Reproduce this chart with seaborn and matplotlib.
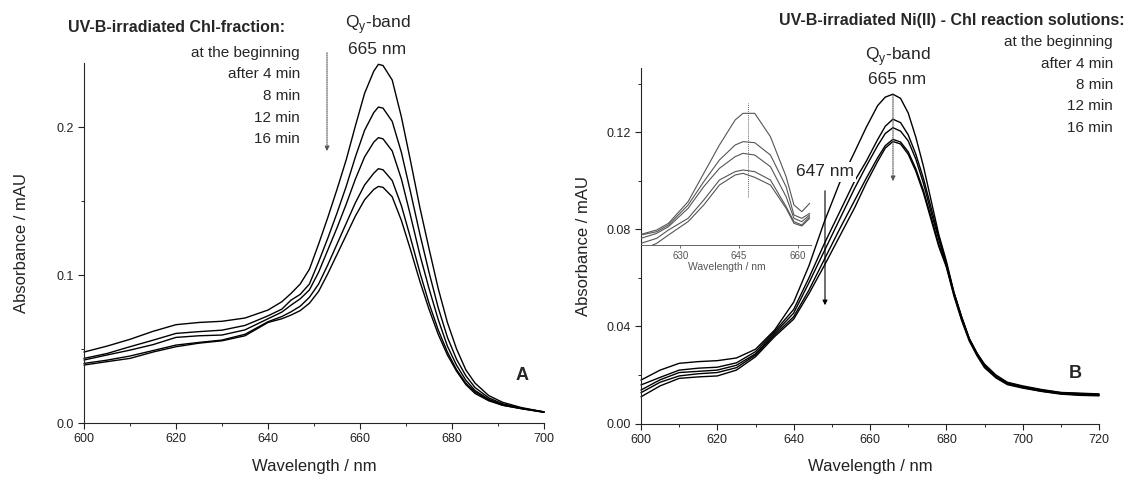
import numpy as np
import pandas as pd
import seaborn as sns
import matplotlib
matplotlib.use('Agg')
import matplotlib.pyplot as plt
from matplotlib.ticker import MultipleLocator, FormatStrFormatter

# irradiation times (same for both panels)
times = ['at the beginning', 'after 4 min', '8 min', '12 min', '16 min']

# panel A: UV-B-irradiated Chl-fraction
wl_a = [600, 605, 610, 615, 620, 625, 630, 635, 640, 643, 645, 647, 649, 651, 653, 655,
        657, 659, 661, 663, 664, 665, 667, 669, 671, 673, 675, 677, 679, 681, 683, 685,
        688, 691, 695, 700]
a_0 = [0.048, 0.052, 0.0566, 0.062, 0.0665, 0.068, 0.0688, 0.071, 0.0764, 0.082, 0.0876, 0.094,
       0.104, 0.121, 0.139, 0.158, 0.178, 0.201, 0.223, 0.238, 0.2426, 0.2418, 0.232, 0.207,
       0.177, 0.146, 0.118, 0.091, 0.068, 0.050, 0.036, 0.027, 0.0185, 0.014, 0.0105, 0.0075]
a_4 = [0.0437, 0.047, 0.0516, 0.056, 0.0606, 0.0618, 0.0628, 0.066, 0.0725, 0.077, 0.0831, 0.087,
       0.094, 0.109, 0.125, 0.142, 0.160, 0.180, 0.198, 0.210, 0.2137, 0.2130, 0.204, 0.183,
       0.156, 0.128, 0.102, 0.078, 0.058, 0.043, 0.032, 0.024, 0.017, 0.013, 0.010, 0.0075]
a_8 = [0.0426, 0.046, 0.0493, 0.053, 0.0579, 0.059, 0.0595, 0.063, 0.0705, 0.075, 0.0797, 0.084,
       0.090, 0.102, 0.117, 0.132, 0.148, 0.165, 0.180, 0.190, 0.193, 0.1922, 0.184, 0.165,
       0.140, 0.114, 0.091, 0.070, 0.052, 0.039, 0.029, 0.022, 0.016, 0.0125, 0.010, 0.0075]
a_12 = [0.0403, 0.0425, 0.0453, 0.049, 0.0527, 0.0545, 0.0561, 0.060, 0.0685, 0.072, 0.0752, 0.079,
        0.085, 0.094, 0.107, 0.121, 0.135, 0.149, 0.161, 0.169, 0.172, 0.1713, 0.164, 0.147,
        0.125, 0.102, 0.081, 0.063, 0.048, 0.036, 0.027, 0.021, 0.0155, 0.012, 0.0098, 0.0073]
a_16 = [0.0392, 0.0415, 0.0437, 0.048, 0.0516, 0.054, 0.0556, 0.059, 0.068, 0.0705, 0.073, 0.076,
        0.081, 0.089, 0.101, 0.114, 0.127, 0.140, 0.151, 0.158, 0.160, 0.1594, 0.153, 0.137,
        0.117, 0.096, 0.077, 0.060, 0.046, 0.035, 0.026, 0.020, 0.015, 0.012, 0.0097, 0.0072]

# panel B: UV-B-irradiated Ni(II) - Chl reaction solutions
wl_b = [600, 605, 610, 615, 620, 625, 630, 635, 640, 644, 648, 652, 656, 659, 662, 664, 666, 668,
        670, 672, 674, 676, 678, 680, 682, 684, 686, 688, 690, 693, 696, 700, 705, 710, 715, 720]
b_0 = [0.0179, 0.022, 0.0248, 0.0255, 0.0259, 0.027, 0.0306, 0.0385, 0.050, 0.065, 0.083, 0.099,
       0.112, 0.122, 0.131, 0.1345, 0.1357, 0.134, 0.128, 0.118, 0.106, 0.092, 0.078, 0.067,
       0.054, 0.044, 0.035, 0.029, 0.0245, 0.020, 0.017, 0.0155, 0.014, 0.0128, 0.0125, 0.0122]
b_4 = [0.0159, 0.019, 0.022, 0.0228, 0.0232, 0.025, 0.0296, 0.0379, 0.047, 0.060, 0.074, 0.087,
       0.100, 0.108, 0.117, 0.1225, 0.1254, 0.124, 0.119, 0.111, 0.101, 0.089, 0.077, 0.066,
       0.054, 0.044, 0.035, 0.029, 0.024, 0.0195, 0.0168, 0.0152, 0.0138, 0.0127, 0.0123, 0.012]
b_8 = [0.0138, 0.018, 0.021, 0.0215, 0.022, 0.024, 0.0287, 0.0372, 0.0455, 0.058, 0.071, 0.084,
       0.097, 0.106, 0.1145, 0.1195, 0.1219, 0.1205, 0.1165, 0.109, 0.099, 0.087, 0.076, 0.0655,
       0.0535, 0.0435, 0.035, 0.029, 0.024, 0.0192, 0.0165, 0.015, 0.0135, 0.0125, 0.012, 0.0118]
b_12 = [0.0127, 0.017, 0.0196, 0.0205, 0.021, 0.023, 0.0282, 0.0365, 0.044, 0.055, 0.0675, 0.080,
        0.092, 0.101, 0.1095, 0.1145, 0.1171, 0.116, 0.112, 0.105, 0.096, 0.085, 0.074, 0.065,
        0.053, 0.043, 0.0345, 0.0285, 0.0235, 0.019, 0.0163, 0.0148, 0.0133, 0.0123, 0.0118, 0.0116]
b_16 = [0.011, 0.0155, 0.0186, 0.0192, 0.0196, 0.022, 0.0275, 0.0358, 0.043, 0.0535, 0.065, 0.077,
        0.089, 0.099, 0.108, 0.1135, 0.1162, 0.1152, 0.111, 0.104, 0.095, 0.084, 0.073, 0.0645,
        0.0525, 0.0425, 0.034, 0.028, 0.023, 0.0188, 0.016, 0.0146, 0.0132, 0.0121, 0.0116, 0.0114]

# inset of panel B (no y scale shown)
wl_in = [620, 624, 627, 632, 636, 640, 644, 646, 649, 653, 657, 659, 661, 663]
in_0 = [0.1032, 0.1045, 0.1065, 0.113, 0.1215, 0.130, 0.1375, 0.1395, 0.1395, 0.1325, 0.1205, 0.112, 0.110, 0.1125]
in_4 = [0.103, 0.104, 0.106, 0.112, 0.119, 0.1255, 0.130, 0.131, 0.1307, 0.127, 0.1175, 0.109, 0.108, 0.1095]
in_8 = [0.102, 0.1035, 0.1055, 0.111, 0.1175, 0.123, 0.1265, 0.1275, 0.127, 0.1235, 0.1145, 0.108, 0.107, 0.109]
in_12 = [0.1005, 0.102, 0.1045, 0.108, 0.1135, 0.1195, 0.122, 0.1225, 0.122, 0.1195, 0.1115, 0.107, 0.106, 0.1085]
in_16 = [0.0985, 0.1005, 0.103, 0.107, 0.112, 0.118, 0.121, 0.1215, 0.1203, 0.118, 0.111, 0.1065, 0.1057, 0.108]


def long_frame(wl, curves):
    rows = []
    for t, vals in zip(times, curves):
        for w, v in zip(wl, vals):
            rows.append((w, v, t))
    return pd.DataFrame(rows, columns=['nm', 'absorbance', 'time'])


df_a = long_frame(wl_a, [a_0, a_4, a_8, a_12, a_16])
df_b = long_frame(wl_b, [b_0, b_4, b_8, b_12, b_16])
df_in = long_frame(wl_in, [in_0, in_4, in_8, in_12, in_16])

sns.set_theme(style='ticks')
plt.rcParams['font.family'] = ['Liberation Sans', 'DejaVu Sans']
plt.rcParams['axes.linewidth'] = 0.8

W, H = 1132, 479
fig = plt.figure(figsize=(W / 100, H / 100), dpi=100)


def box(l, t, r, b):
    return [l / W, 1 - b / H, (r - l) / W, (b - t) / H]


def T(x, y, s, **kw):
    kw.setdefault('va', 'center')
    return fig.text(x / W, 1 - y / H, s, **kw)


def arrow(x, y0, y1, dotted=False):
    ls = (0, (1, 1)) if dotted else '-'
    col = '#555555' if dotted else 'black'
    fig.add_artist(matplotlib.patches.FancyArrowPatch(
        (x / W, 1 - y0 / H), (x / W, 1 - y1 / H), transform=fig.transFigure,
        arrowstyle='-|>', mutation_scale=7, lw=0.8, linestyle=ls, color=col))


ax_a = fig.add_axes(box(84, 63, 544, 423))
ax_b = fig.add_axes(box(641, 68, 1099, 423.5))
ax_in = fig.add_axes(box(641, 95, 812, 245))

black5 = ['black'] * 5
sns.lineplot(data=df_a, x='nm', y='absorbance', hue='time', palette=black5, lw=1.0,
             legend=False, estimator=None, sort=False, ax=ax_a)
sns.lineplot(data=df_b, x='nm', y='absorbance', hue='time', palette=black5, lw=1.0,
             legend=False, estimator=None, sort=False, ax=ax_b)
sns.lineplot(data=df_in, x='nm', y='absorbance', hue='time', palette=['#555555'] * 5, lw=0.8,
             legend=False, estimator=None, sort=False, ax=ax_in)


def style(ax, xlim, ylim, xmaj, ymaj, yfmt, ylab_x):
    sns.despine(ax=ax)
    ax.set_xlim(*xlim)
    ax.set_ylim(*ylim)
    ax.xaxis.set_major_locator(MultipleLocator(xmaj))
    ax.xaxis.set_minor_locator(MultipleLocator(xmaj / 2))
    ax.yaxis.set_major_locator(MultipleLocator(ymaj))
    ax.yaxis.set_minor_locator(MultipleLocator(ymaj / 2))
    ax.yaxis.set_major_formatter(FormatStrFormatter(yfmt))
    ax.tick_params(which='major', direction='out', length=4, width=0.8, labelsize=9, colors='#222222')
    ax.tick_params(which='minor', direction='out', length=2.5, width=0.7)
    ax.set_xlabel('Wavelength / nm', fontsize=12, color='#222222')
    ax.set_ylabel('Absorbance / mAU', fontsize=12, color='#222222')
    ax.xaxis.label.set_va('center')
    ax.yaxis.label.set_va('center')
    ax.xaxis.set_label_coords(0.5, -0.122)
    ax.yaxis.set_label_coords(ylab_x, 0.5)
    for ln in ax.lines:
        ln.set_clip_on(False)


style(ax_a, (600, 700), (0, 0.2435), 20, 0.1, '%.1f', -0.136)
style(ax_b, (600, 720), (0, 0.1465), 20, 0.04, '%.2f', -0.125)

# inset styling
ax_in.set_xlim(620, 663.6)
ax_in.set_ylim(0.100, 0.145)
ax_in.patch.set_alpha(0)
for side in ['left', 'top', 'right']:
    ax_in.spines[side].set_visible(False)
ax_in.spines['bottom'].set_linestyle((0, (1, 1)))
ax_in.spines['bottom'].set_color('#666666')
ax_in.spines['bottom'].set_linewidth(0.7)
ax_in.set_yticks([])
ax_in.set_xticks([630, 645, 660])
ax_in.tick_params(axis='x', length=2, width=0.6, labelsize=7, colors='#555555', pad=2)
ax_in.set_xlabel('Wavelength / nm', fontsize=7.5, color='#555555', labelpad=1)
ax_in.set_ylabel('')
ax_in.vlines(647.4, 0.1144, 0.1426, colors='#666666', linestyles=(0, (1, 1)), lw=0.7)

# panel A annotations
T(68, 28, 'UV-B-irradiated Chl-fraction:', ha='left', fontsize=11.5, fontweight='bold')
for i, t in enumerate(times):
    T(300, 52.7 + i * 21.65, t, ha='right', fontsize=11)
T(378, 25, r'Q$_\mathregular{y}$-band', ha='center', fontsize=12.5)
T(377, 49, '665 nm', ha='center', fontsize=12.5)
arrow(327, 50, 154, dotted=True)
T(522, 376, 'A', ha='center', fontsize=13, fontweight='bold')

# panel B annotations
T(1125, 20, 'UV-B-irradiated Ni(II) - Chl reaction solutions:', ha='right', fontsize=11.5, fontweight='bold')
for i, t in enumerate(times):
    T(1113, 42 + i * 21.5, t, ha='right', fontsize=11)
T(898, 57, r'Q$_\mathregular{y}$-band', ha='center', fontsize=12.5)
T(897, 80, '665 nm', ha='center', fontsize=12.5)
arrow(893, 92, 184, dotted=True)
T(825, 172, '647 nm', ha='center', fontsize=12.5,
  bbox=dict(facecolor='white', edgecolor='none', pad=1.5))
arrow(825, 188, 308)
T(1075, 373, 'B', ha='center', fontsize=13, fontweight='bold')

fig.savefig('out.png', dpi=100)
